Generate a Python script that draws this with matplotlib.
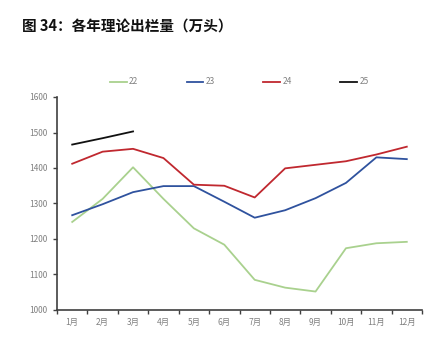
import matplotlib
matplotlib.use("Agg")
import matplotlib.pyplot as plt
import numpy as np

plt.rcParams['font.family'] = ['Noto Sans CJK SC', 'DejaVu Sans']

months = ['1月', '2月', '3月', '4月', '5月', '6月', '7月', '8月', '9月', '10月', '11月', '12月']
y22 = [1248, 1313, 1402, 1313, 1230, 1184, 1085, 1063, 1052, 1174, 1188, 1192]
y23 = [1267, 1298, 1332, 1349, 1349, 1305, 1260, 1281, 1315, 1358, 1430, 1425]
y24 = [1412, 1446, 1454, 1428, 1353, 1350, 1317, 1399, 1409, 1419, 1438, 1460]
y25 = [1466, 1484, 1503]
yticks = [1000, 1100, 1200, 1300, 1400, 1500, 1600]

fig = plt.figure(figsize=(4.29, 3.45), dpi=100)
ax = fig.add_axes([57/429, 35/345, 365/429, 213/345])

x = np.arange(len(months))
ax.plot(x, y22, color='#A9D18E', lw=1.3, label='22')
ax.plot(x, y23, color='#2F529E', lw=1.3, label='23')
ax.plot(x, y24, color='#C0282F', lw=1.3, label='24')
ax.plot(x[:len(y25)], y25, color='#111111', lw=1.3, label='25')

ax.set_xlim(-0.5, len(months) - 0.5)
ax.set_ylim(1000, 1600)
ax.set_yticks(yticks)
ax.set_yticklabels([str(v) for v in yticks], fontsize=6, color='#808080')
ax.set_xticks(x)
ax.set_xticklabels(months, fontsize=6, color='#808080')
ax.set_xticks(np.arange(-0.5, len(months)), minor=True)
ax.tick_params(axis='x', which='major', length=0, pad=6)
ax.tick_params(axis='x', which='minor', length=3, width=1, color='#404040', direction='out')
ax.tick_params(axis='y', which='major', length=3, width=1, color='#404040', direction='out', pad=4)

for s in ['top', 'right']:
    ax.spines[s].set_visible(False)
for s in ['left', 'bottom']:
    ax.spines[s].set_color('#404040')
    ax.spines[s].set_linewidth(1.2)

leg = fig.legend(loc='center', bbox_to_anchor=(0.558, 263/345), ncol=4, frameon=False,
                 fontsize=6, handlelength=2.0, handletextpad=0.3, columnspacing=5.8)
for t in leg.get_texts():
    t.set_color('#808080')

fig.text(22/429, 1 - 27/345, '图 34：各年理论出栏量（万头）', fontsize=10.5, fontweight='bold',
         va='center', ha='left', color='#111111')

fig.savefig('out.png', dpi=100)
